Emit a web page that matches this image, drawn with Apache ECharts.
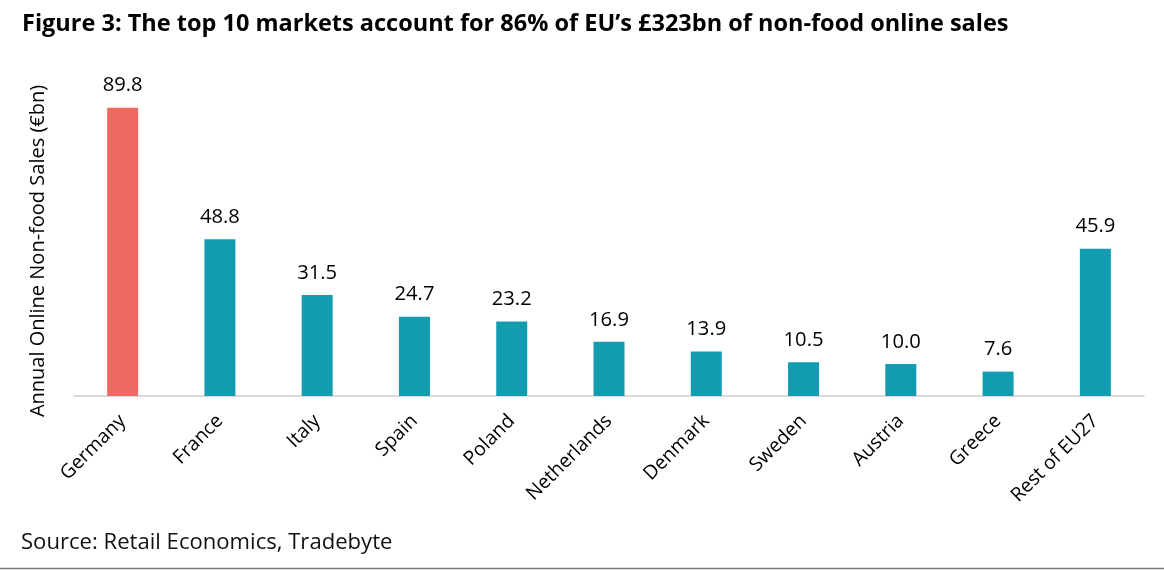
<!DOCTYPE html>
<html><head><meta charset="utf-8">
<script src="https://cdn.jsdelivr.net/npm/echarts@6/dist/echarts.min.js"></script>
<style>html,body{margin:0;padding:0;background:#fff}#c{width:1164px;height:570px}</style>
</head><body><div id="c"></div>
<script>
const categories = ['Germany','France','Italy','Spain','Poland','Netherlands','Denmark','Sweden','Austria','Greece','Rest of EU27'];
const values = [89.8,48.8,31.5,24.7,23.2,16.9,13.9,10.5,10.0,7.6,45.9];
const highlight = ['Germany'];
const titleText = 'Figure 3: The top 10 markets account for 86% of EU’s £323bn of non-food online sales';
const sourceText = 'Source: Retail Economics, Tradebyte';
const yAxisName = 'Annual Online Non-food Sales (€bn)';

const FONT = 'Open Sans';
const ctx = document.createElement('canvas').getContext('2d');
function fit(text, weight, target){
  ctx.font = weight + ' 100px "' + FONT + '"';
  return Math.round(100 * target / ctx.measureText(text).width * 10) / 10;
}
const titleSize = fit(titleText, 'bold', 988);
const sourceSize = fit(sourceText, 'normal', 372);
const valueSize = fit('89.8', 'normal', 40);
const nameSize = fit(yAxisName, 'normal', 333);
const catSize = fit('Netherlands', 'normal', 112);

const chart = echarts.init(document.getElementById('c'));
chart.setOption({
  animation:false,
  title:[{text:titleText,left:22,top:12,padding:0,textStyle:{fontFamily:FONT,fontWeight:'bold',fontSize:titleSize,color:'#000'}},
         {text:sourceText,left:21,top:532,padding:0,textStyle:{fontFamily:FONT,fontWeight:'normal',fontSize:sourceSize,color:'#111'}}],
  grid:{left:74,right:20,top:75,height:321},
  xAxis:{type:'category',data:categories,
    axisLine:{lineStyle:{color:'#d0d0d0',width:1.5}},axisTick:{show:false},
    axisLabel:{rotate:45,interval:0,margin:22,fontFamily:FONT,fontSize:catSize,color:'#000'}},
  yAxis:{type:'value',min:0,max:100,show:false},
  series:[{type:'bar',barWidth:31,
    data:values.map((v,i)=>({value:v,itemStyle:{color:highlight.includes(categories[i])?'#EE6962':'#129CB0'}})),
    label:{show:true,position:'top',distance:12,formatter:p=>p.value.toFixed(1),fontFamily:FONT,fontSize:valueSize,color:'#000'}}],
  graphic:[
    {type:'line',shape:{x1:0,y1:568.5,x2:1164,y2:568.5},style:{stroke:'#777',lineWidth:1.5}},
    {type:'text',x:38,y:251,rotation:Math.PI/2,style:{text:yAxisName,font:'normal '+nameSize+'px "'+FONT+'"',fill:'#000',align:'center',verticalAlign:'middle'}}
  ]
});
</script></body></html>
